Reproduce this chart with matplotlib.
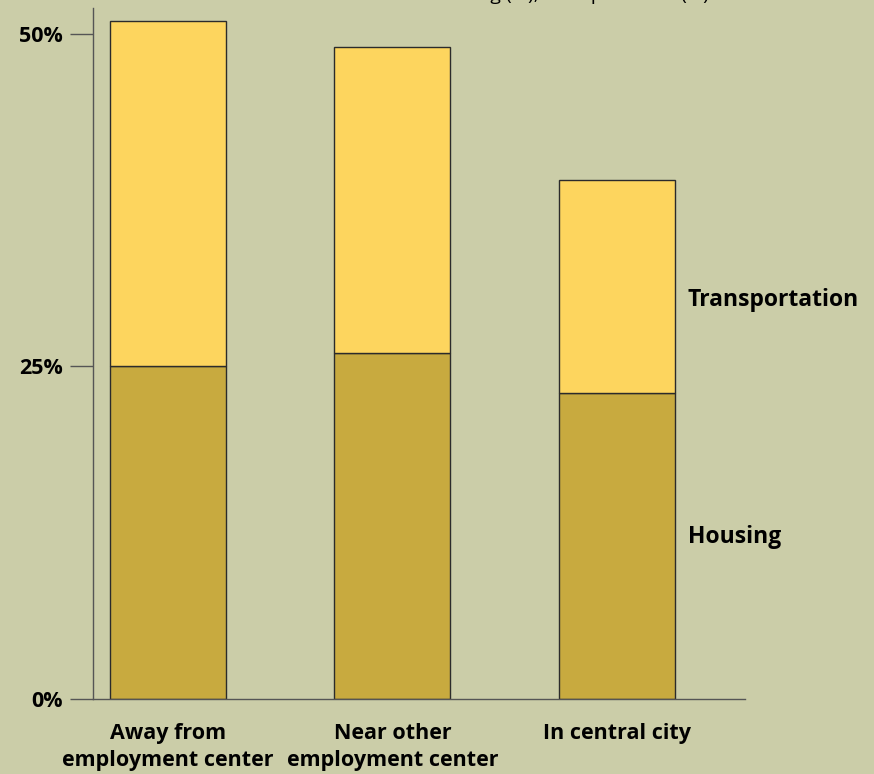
import matplotlib.pyplot as plt
import numpy as np

plt.rcParams['font.family'] = ['Open Sans', 'DejaVu Sans']

#-- share of household income, by location
locations = ['Away from\nemployment center', 'Near other\nemployment center', 'In central city']
housing = [25.0, 26.0, 23.0]
transport = [26.0, 23.0, 16.0]
y_ticks = [0, 25, 50]
y_labels = ['0%', '25%', '50%']

bg = '#CBCDA8'
c_house = '#C8AA3F'
c_trans = '#FDD55E'
edge = '#2b2b2b'

fig = plt.figure(figsize=(8.74, 7.74), dpi=100)
fig.patch.set_facecolor(bg)
ax = fig.add_axes([93/874, 75/774, (745-93)/874, (699-8)/774])
ax.set_facecolor(bg)

x = np.arange(len(locations))
w = 0.517
ax.bar(x, housing, w, color=c_house, edgecolor=edge, linewidth=1.0)
ax.bar(x, transport, w, bottom=housing, color=c_trans, edgecolor=edge, linewidth=1.0)

ax.set_xlim(-0.334, 2.571)
ax.set_ylim(0, 51.95)

for s in ['top', 'right']:
    ax.spines[s].set_visible(False)
for s in ['left', 'bottom']:
    ax.spines[s].set_color('#555555')
    ax.spines[s].set_linewidth(1.0)

ax.set_yticks(y_ticks)
ax.set_yticklabels(y_labels, fontsize=15.5, fontweight='bold')
ax.tick_params(axis='y', length=16.5, width=1.0, color='#555555', pad=5)
ax.set_xticks(x)
ax.set_xticklabels(locations, fontsize=15.5, fontweight='bold', linespacing=1.4)
ax.tick_params(axis='x', length=0, pad=17)

# series labels beside the last bar
ax.text(2.317, housing[2] + transport[2] * 0.41, 'Transportation',
        fontsize=16.5, fontweight='bold', va='baseline', ha='left')
ax.text(2.317, housing[2] * 0.51, 'Housing',
        fontsize=16.5, fontweight='bold', va='baseline', ha='left')

# title runs off the top edge
fig.text(0.56, 1.0, 'Share of income: housing (%), transportation (%)',
         fontsize=14, ha='center', va='baseline')

fig.savefig('out.png', dpi=100, facecolor=bg)
